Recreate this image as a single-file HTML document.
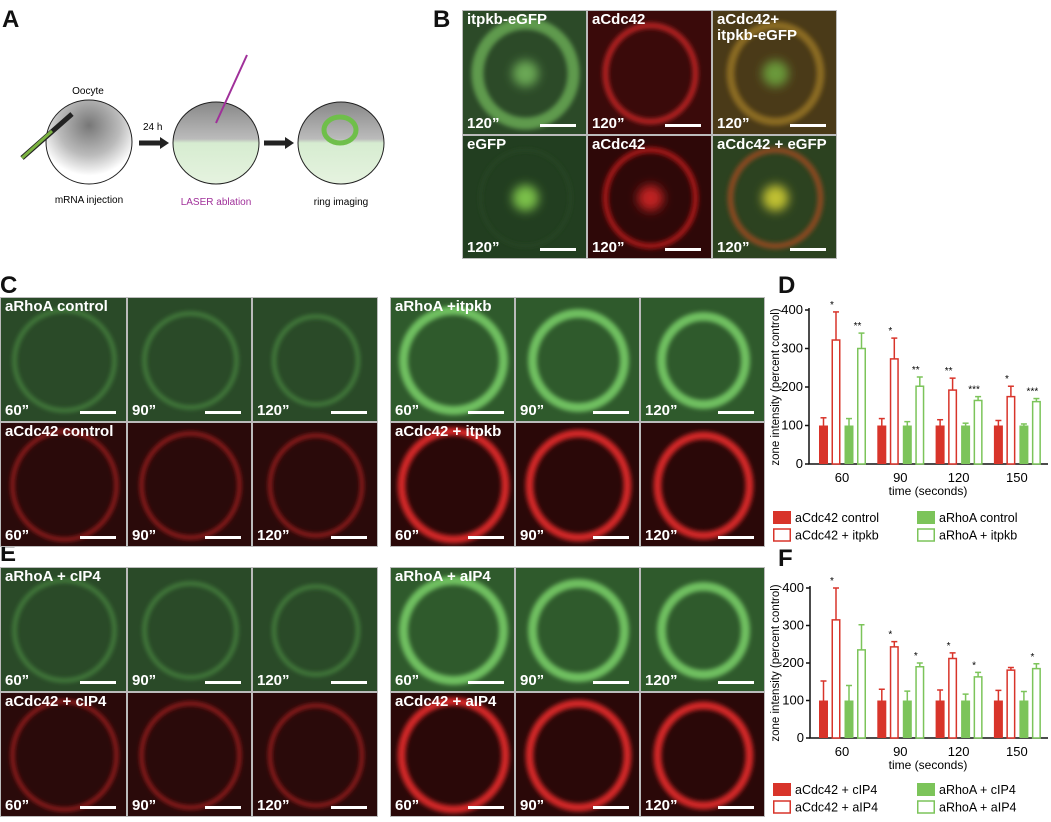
<!DOCTYPE html>
<html><head><meta charset="utf-8"><style>
body{margin:0;background:#fff;width:1051px;height:822px;overflow:hidden;position:relative;font-family:"Liberation Sans",sans-serif}
.lbl{position:absolute;font-weight:bold;font-size:24px;color:#111}
.pn{position:absolute;overflow:hidden;box-sizing:border-box;border:1px solid #bbb}
.pn .t{position:absolute;left:4px;top:1px;color:#fff;font-weight:bold;font-size:15px;line-height:16px}
.pn .tm{position:absolute;left:4px;bottom:2px;color:#fff;font-weight:bold;font-size:15px}
.pn .sb{position:absolute;right:10px;bottom:7px;width:36px;height:3px;background:#fff}
svg text{font-family:"Liberation Sans",sans-serif}
</style></head><body>
<div class="lbl" style="left:2px;top:6px">A</div>
<div class="lbl" style="left:433px;top:6px">B</div>
<div class="lbl" style="left:0;top:272px">C</div>
<div class="lbl" style="left:778px;top:272px">D</div>
<div class="lbl" style="left:0;top:540px">E</div>
<div class="lbl" style="left:778px;top:545px">F</div>

<svg width="440" height="260" style="position:absolute;left:0;top:0">
<defs><radialGradient id="og" cx="50%" cy="30%" r="60%"><stop offset="0" stop-color="#777"/><stop offset="0.6" stop-color="#bbb"/><stop offset="1" stop-color="#fff"/></radialGradient>
<linearGradient id="gg" x1="0" y1="0" x2="0" y2="1"><stop offset="0" stop-color="#888"/><stop offset="0.45" stop-color="#bbb"/><stop offset="0.5" stop-color="#d6ecd0"/><stop offset="1" stop-color="#e6f3e0"/></linearGradient></defs>
<text x="88" y="94" font-size="10" text-anchor="middle">Oocyte</text>
<ellipse cx="89" cy="142" rx="43" ry="42" fill="url(#og)" stroke="#222" stroke-width="1"/>
<line x1="22" y1="158" x2="72" y2="114" stroke="#222" stroke-width="5"/><line x1="22" y1="158" x2="52" y2="131" stroke="#7cb342" stroke-width="3"/>
<text x="143" y="130" font-size="10">24 h</text>
<path d="M139 143h24" stroke="#222" stroke-width="5"/><path d="M160 137l9 6-9 6z" fill="#222"/>
<ellipse cx="216" cy="143" rx="43" ry="41" fill="url(#gg)" stroke="#222"/>
<line x1="247" y1="55" x2="216" y2="123" stroke="#a0309a" stroke-width="2"/>
<path d="M264 143h24" stroke="#222" stroke-width="5"/><path d="M285 137l9 6-9 6z" fill="#222"/>
<ellipse cx="341" cy="143" rx="43" ry="41" fill="url(#gg)" stroke="#222"/>
<ellipse cx="340" cy="130" rx="16" ry="13" fill="none" stroke="#6fbf4a" stroke-width="5"/>
<text x="89" y="203" font-size="10" text-anchor="middle">mRNA injection</text>
<text x="216" y="205" font-size="10" text-anchor="middle" fill="#a0309a">LASER ablation</text>
<text x="341" y="205" font-size="10" text-anchor="middle">ring imaging</text>
</svg>

<div id="panels"></div>
<svg id="chartD" width="1051" height="822" style="position:absolute;left:0;top:0"></svg>

<script>
const P=[];
const panelsEl=document.getElementById('panels');
function addPanel(x,y,w,h,bg,ring,rx,ry,sw,title,time,name,center){
  const d=document.createElement('div');d.className='pn';
  
  
  d.style.cssText+=`left:${x}px;top:${y}px;width:${w}px;height:${h}px;background:${bg}`;
  let s=`<svg width="${w}" height="${h}" style="position:absolute;left:0;top:0"><defs><filter id="f${P.length}" x="-50%" y="-50%" width="200%" height="200%"><feGaussianBlur stdDeviation="2"/></filter><filter id="g${P.length}" x="-100%" y="-100%" width="300%" height="300%"><feGaussianBlur stdDeviation="5"/></filter></defs>`;
  s+=`<ellipse cx="${w/2}" cy="${h/2}" rx="${rx}" ry="${ry}" fill="none" stroke="${ring}" stroke-width="${sw}" filter="url(#f${P.length})"/>`;
  if(center)s+=`<circle cx="${w/2}" cy="${h/2}" r="13" fill="${center}" filter="url(#g${P.length})"/>`;
  s+='</svg>';
  d.innerHTML=s+(title?`<div class="t">${title}</div>`:'')+`<div class="tm">${time}</div><div class="sb"></div>`;
  panelsEl.appendChild(d);P.push(d);
}
const bx=[462,587,712],bw=125;
addPanel(bx[0],10,bw,125,'#2c4a28','#5f9a4e',48,50,12,'itpkb-eGFP','120”','b-itpkb-egfp','#6aa855');
addPanel(bx[1],10,bw,125,'#3a0a0a','#b02020',45,48,6,'aCdc42','120”','b-acdc42-1');
addPanel(bx[2],10,bw,125,'#4a3a18','#8a6a20',45,48,8,'aCdc42+<br>itpkb-eGFP','120”','b-merge-1','#6a9a3a');
addPanel(bx[0],135,bw,124,'#223e20','#2a4a26',45,48,2,'eGFP','120”','b-egfp','#7ac04a');
addPanel(bx[1],135,bw,124,'#2e0808','#a01818',45,48,6,'aCdc42','120”','b-acdc42-2','#c02020');
addPanel(bx[2],135,bw,124,'#2c4220','#8a4a20',45,48,6,'aCdc42 + eGFP','120”','b-merge-2','#c0c030');
function block(y0,titles,names){
  const gx=[[0,127,252],[390,515,640]];const ws=[[127,125,126],[125,125,125]];
  const times=['60”','90”','120”'];
  for(let g=0;g<2;g++){for(let c=0;c<3;c++){
    const x=gx[g][c],w=ws[g][c];
    const gr=g==1?'#6fc060':'#45803c', rr=g==1?'#d02828':'#981c1c';
    addPanel(x,y0,w,125,g==1?'#2f5a2c':'#2a4a28',gr,50-c*4,50-c*3,g==1?9:4,c==0?titles[g][0]:'',times[c],names+'-green-'+g+'-'+c);
    addPanel(x,y0+125,w,125,g==1?'#2a0808':'#2a0a0a',rr,52-c*3,54-c*2,g==1?8:4,c==0?titles[g][1]:'',times[c],names+'-red-'+g+'-'+c);
  }}
}
block(297,[['aRhoA control','aCdc42 control'],['aRhoA +itpkb','aCdc42 + itpkb']],'c');
block(567,[['aRhoA + cIP4','aCdc42 + cIP4'],['aRhoA + aIP4','aCdc42 + aIP4']],'e');
</script>

<script>
const categories=['60','90','120','150'];
const yTicks=[0,100,200,300,400];
const dCtrlRed=[100,100,100,100], dCtrlRedErr=[120,118,115,113];
const dItpkbRed=[322,273,192,175], dItpkbRedErr=[395,327,223,202];
const dCtrlGreen=[100,100,100,100], dCtrlGreenErr=[118,110,106,104];
const dItpkbGreen=[300,202,165,162], dItpkbGreenErr=[340,226,175,170];
const dStarsRed=['*','*','**','*'], dStarsGreen=['**','**','***','***'];
const fCtrlRed=[100,100,100,100], fCtrlRedErr=[152,130,128,127];
const fIp4Red=[315,243,212,181], fIp4RedErr=[400,257,227,188];
const fCtrlGreen=[100,100,100,100], fCtrlGreenErr=[140,125,117,124];
const fIp4Green=[235,190,163,185], fIp4GreenErr=[302,200,175,198];
const fStarsRed=['*','*','*',''], fStarsGreen=['','*','*','*'];
const legendD=['aCdc42 control','aCdc42 + itpkb','aRhoA control','aRhoA + itpkb'];
const legendF=['aCdc42 + cIP4','aCdc42 + aIP4','aRhoA + cIP4','aRhoA + aIP4'];

const svg=document.getElementById('chartD');
const NS='http://www.w3.org/2000/svg';
function el(t,a,txt){const e=document.createElementNS(NS,t);for(const k in a)e.setAttribute(k,a[k]);if(txt!==undefined)e.textContent=txt;svg.appendChild(e);return e;}
const RED='#d8342a',GRN='#7cc45a';
function chart(id,x0,y0,yTop,series,starsR,starsG,legend,ly){
  const xEnd=1048;
  const yS=v=>y0-(v/400)*(y0-yTop);
  const xC=i=>842+i*58.3;
  const ax=el('path',{d:`M${x0} ${yTop-2}V${y0}H${xEnd}`,fill:'none',stroke:'#111','stroke-width':1.5});
  
  
  yTicks.forEach(t=>{
    el('line',{x1:x0-4,x2:x0,y1:yS(t),y2:yS(t),stroke:'#111','stroke-width':1.5});
    const tl=el('text',{x:x0-6,y:yS(t)+4,'font-size':13,'text-anchor':'end'},t);
    
    
  });
  categories.forEach((c,i)=>{
    const tl=el('text',{x:xC(i),y:y0+18,'font-size':13,'text-anchor':'middle'},c);
    
    
  });
  const xt=el('text',{x:928,y:y0+31,'font-size':12,'text-anchor':'middle'},'time (seconds)');
  
  
  const yt=el('text',{x:0,y:0,'font-size':11.5,'text-anchor':'middle',transform:`translate(779,${(y0+yTop)/2}) rotate(-90)`},'zone intensity (percent control)');
  
  
  const offs=[-23,-10.5,2.5,15], bw=9;
  series.forEach((s,k)=>{
    s.v.forEach((v,i)=>{
      const x=xC(i)+offs[k], y=yS(v), ye=yS(s.e[i]);
      const col=k<2?RED:GRN, open=k%2==1;
      el('line',{x1:x+bw/2,x2:x+bw/2,y1:y,y2:ye,stroke:col,'stroke-width':1.5});
      el('line',{x1:x+bw/2-3,x2:x+bw/2+3,y1:ye,y2:ye,stroke:col,'stroke-width':1.5});
      const r=open?el('rect',{x:x+0.75,y:y,width:bw-1.5,height:y0-y,fill:'#fff',stroke:col,'stroke-width':1.5}):el('rect',{x:x,y:y,width:bw,height:y0-y,fill:col});
      
      
      if(open){const st=(k==1?starsR:starsG)[i];if(st){const t=el('text',{x:x+bw/2-4,y:ye-4,'font-size':10,'text-anchor':'middle'},st);
        
        }}
    });
  });
  const lx=[773,917];
  legend.forEach((L,k)=>{
    const col=k<2?RED:GRN, open=k%2==1;
    const x=lx[Math.floor(k/2)], y=ly+(k%2)*17.5;
    const sw=open?el('rect',{x:x+0.75,y:y-6.5,width:16.5,height:12,fill:'#fff',stroke:col,'stroke-width':1.5}):el('rect',{x:x,y:y-7,width:18,height:13,fill:col});
    
    
    const t=el('text',{x:x+22,y:y+4,'font-size':12.5},L);
    
    
  });
}
chart('chart-d',809,464,310,[{v:dCtrlRed,e:dCtrlRedErr},{v:dItpkbRed,e:dItpkbRedErr},{v:dCtrlGreen,e:dCtrlGreenErr},{v:dItpkbGreen,e:dItpkbGreenErr}],dStarsRed,dStarsGreen,legendD,518);
chart('chart-f',810,738,588,[{v:fCtrlRed,e:fCtrlRedErr},{v:fIp4Red,e:fIp4RedErr},{v:fCtrlGreen,e:fCtrlGreenErr},{v:fIp4Green,e:fIp4GreenErr}],fStarsRed,fStarsGreen,legendF,790);
</script>
</body></html>
